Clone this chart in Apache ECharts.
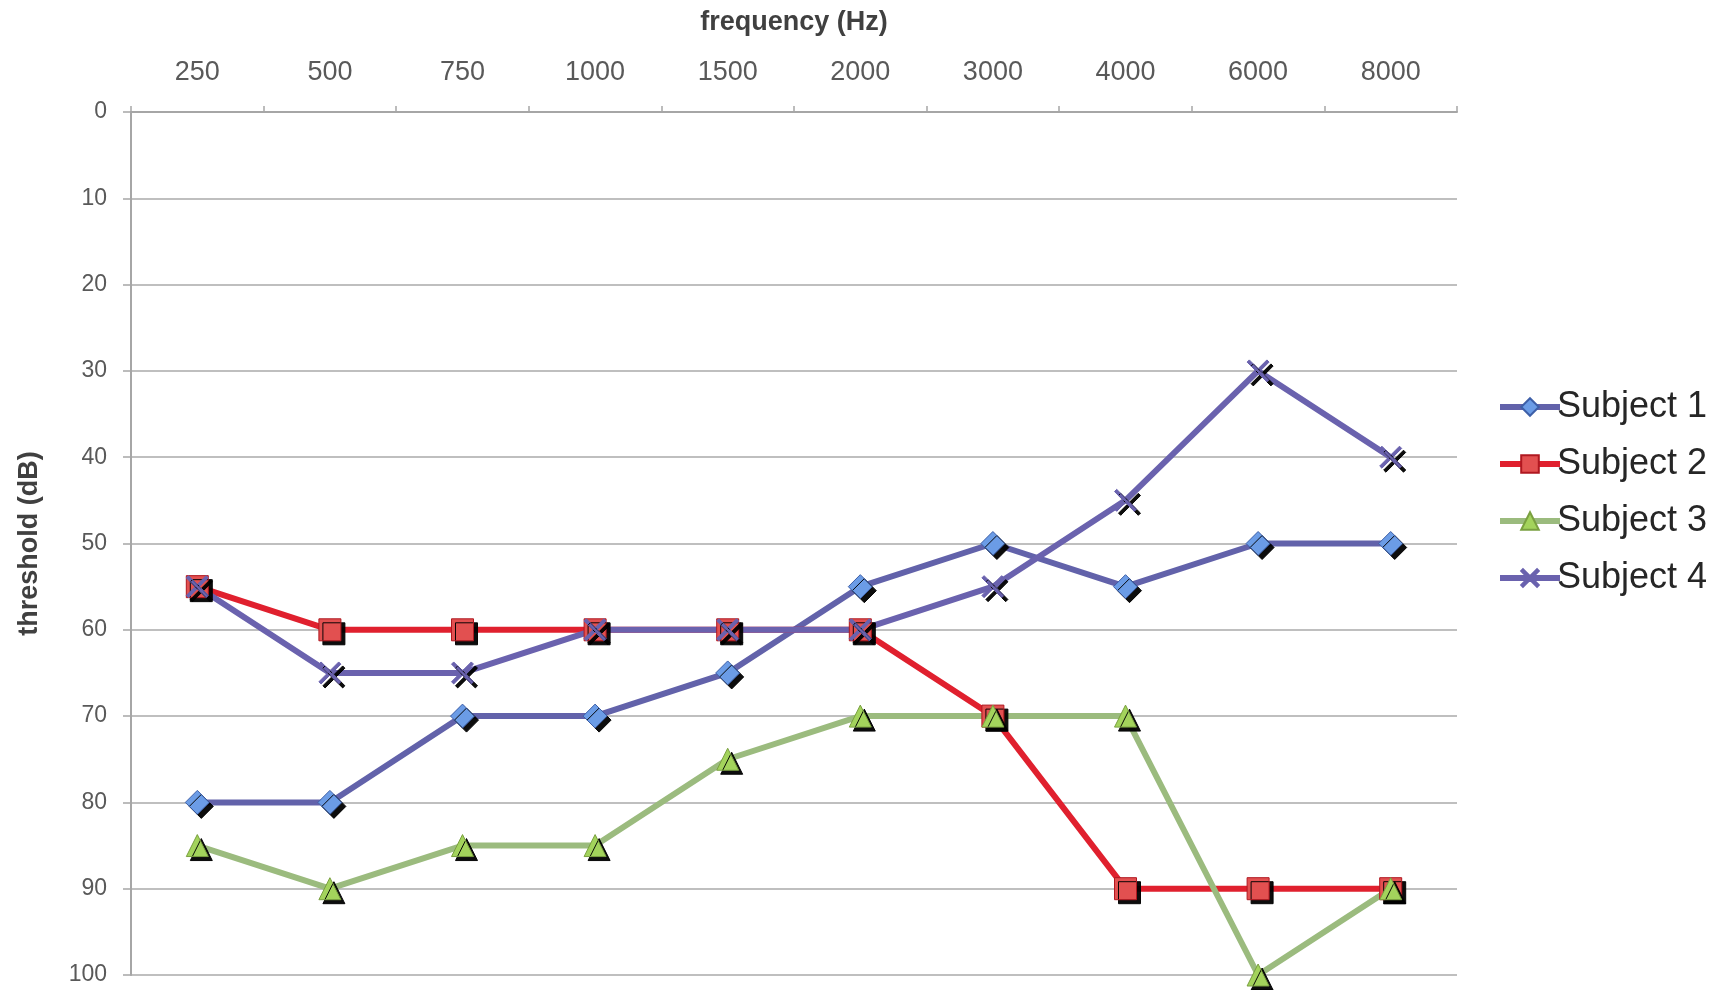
<!DOCTYPE html>
<html>
<head>
<meta charset="utf-8">
<title>Hearing thresholds</title>
<script src="https://cdn.jsdelivr.net/npm/echarts@6/dist/echarts.min.js"></script>
<style>
  html, body { margin: 0; padding: 0; background: #ffffff; }
  #chart { width: 1727px; height: 990px; }
</style>
</head>
<body>
<div id="chart"></div>
<script>
// Test frequencies (Hz) shown along the top axis
const frequencies = ['250', '500', '750', '1000', '1500', '2000', '3000', '4000', '6000', '8000'];

// Hearing thresholds (dB) per subject
const subject1 = [80, 80, 70, 70, 65, 55, 50, 55, 50, 50];
const subject2 = [55, 60, 60, 60, 60, 60, 70, 90, 90, 90];
const subject3 = [85, 90, 85, 85, 75, 70, 70, 70, 100, 90];
const subject4 = [55, 65, 65, 60, 60, 60, 55, 45, 30, 40];

const seriesNames = ['Subject 1', 'Subject 2', 'Subject 3', 'Subject 4'];

// Threshold axis ticks
const yMin = 0, yMax = 100, yStep = 10;

const crossPath = 'path://M0,2 L2,0 L10,8 L18,0 L20,2 L12,10 L20,18 L18,20 L10,12 L2,20 L0,18 L8,10 Z';

const shadowStyle = { shadowColor: 'rgba(0,0,0,0.95)', shadowBlur: 0, shadowOffsetX: 4, shadowOffsetY: 4 };

function makeSeries(name, data, lineColor, symbol, symbolSize, fill, border) {
  return {
    name: name,
    type: 'line',
    data: data,
    symbol: symbol,
    symbolSize: symbolSize,
    showAllSymbol: true,
    lineStyle: { color: lineColor, width: 6 },
    itemStyle: Object.assign({ color: fill, borderColor: border, borderWidth: 1 }, shadowStyle),
    emphasis: { disabled: true },
    z: 3
  };
}

const chart = echarts.init(document.getElementById('chart'));

chart.setOption({
  backgroundColor: '#ffffff',
  animation: false,
  grid: { left: 131, right: 270, top: 112, bottom: 15, containLabel: false },
  legend: {
    orient: 'vertical',
    left: 1492,
    top: 384,
    itemWidth: 60,
    itemHeight: 22,
    itemGap: 21,
    data: seriesNames,
    lineStyle: { width: 6 },
    itemStyle: { shadowColor: 'transparent' },
    textStyle: { fontFamily: 'Liberation Sans', fontSize: 36, color: '#262626', padding: [0, 0, 0, -8] }
  },
  xAxis: {
    type: 'category',
    position: 'top',
    data: frequencies,
    boundaryGap: true,
    name: 'frequency (Hz)',
    nameLocation: 'middle',
    nameGap: 76,
    nameTextStyle: { fontFamily: 'Liberation Sans', fontWeight: 'bold', fontSize: 27, color: '#404040' },
    axisLine: { show: true, lineStyle: { color: '#a6a6a6', width: 2 } },
    axisTick: { show: true, length: 6, lineStyle: { color: '#a6a6a6', width: 1.5 } },
    axisLabel: { fontFamily: 'Liberation Sans', fontSize: 27, color: '#595959', margin: 26 },
    splitLine: { show: false }
  },
  yAxis: {
    type: 'value',
    inverse: true,
    min: yMin,
    max: yMax,
    interval: yStep,
    name: 'threshold (dB)',
    nameLocation: 'middle',
    nameGap: 88,
    nameTextStyle: { fontFamily: 'Liberation Sans', fontWeight: 'bold', fontSize: 27, color: '#404040' },
    axisLine: { show: true, lineStyle: { color: '#a6a6a6', width: 2 } },
    axisTick: { show: true, length: 8, lineStyle: { color: '#a6a6a6', width: 1.5 } },
    axisLabel: { fontFamily: 'Liberation Sans', fontSize: 23, color: '#595959', margin: 24 },
    splitLine: { show: true, lineStyle: { color: '#bfbfbf', width: 2 } }
  },
  series: [
    makeSeries(seriesNames[0], subject1, '#6262aa', 'diamond', 24, '#6b9ce6', '#3d5fa8'),
    makeSeries(seriesNames[1], subject2, '#e0202e', 'rect', 22, '#e25050', '#b01820'),
    makeSeries(seriesNames[2], subject3, '#9bbb7e', 'triangle', 22, '#a3d35c', '#7aa040'),
    makeSeries(seriesNames[3], subject4, '#6a62ae', crossPath, 22, '#6a62ae', '#6a62ae')
  ]
});
</script>
</body>
</html>
